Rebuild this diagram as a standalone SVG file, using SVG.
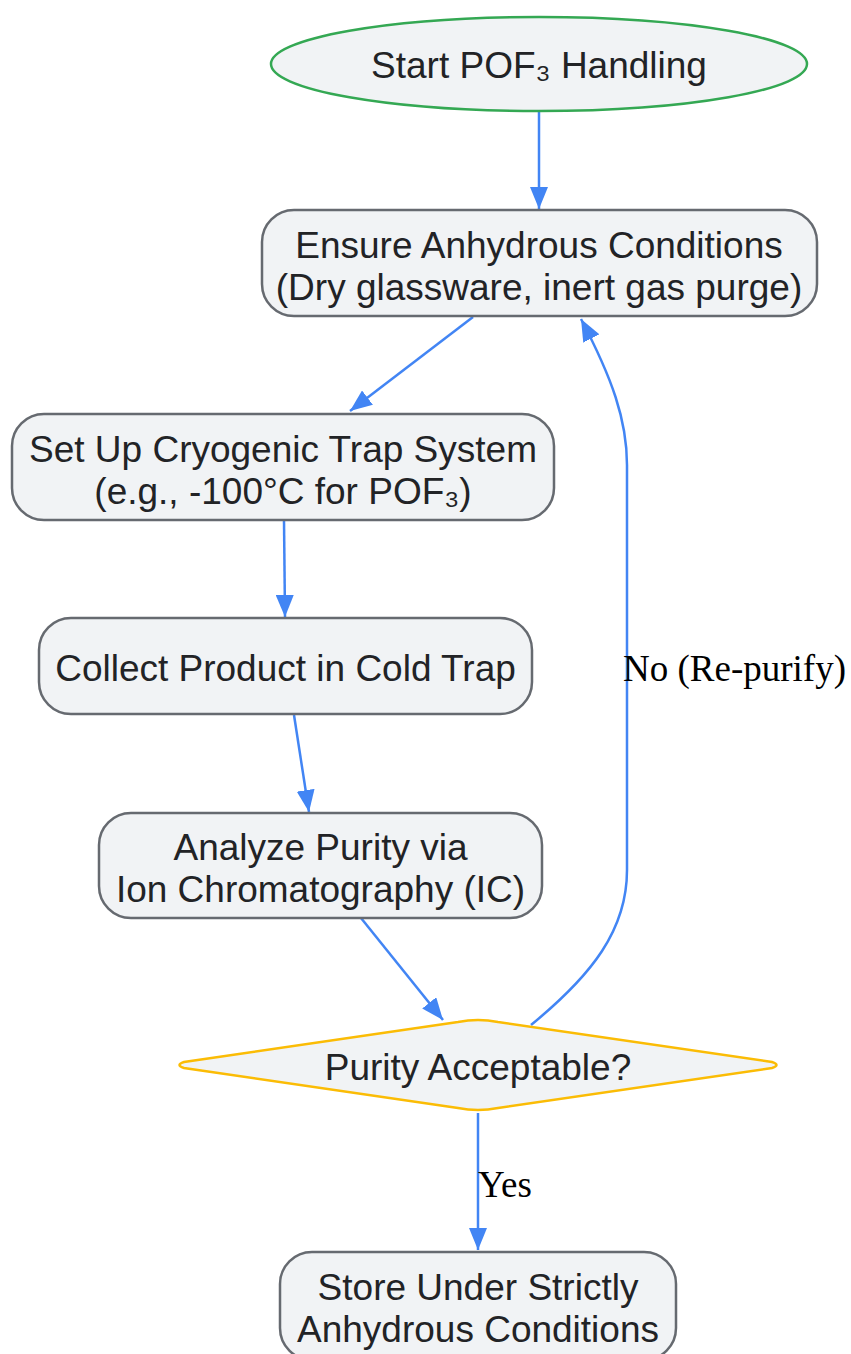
<svg xmlns="http://www.w3.org/2000/svg" width="851" height="1354" viewBox="0 0 851 1354">
<style>
.node{fill:#f1f3f5;stroke:#666a70;stroke-width:2.5}
.t{font-family:"Liberation Sans",Arial,sans-serif;font-size:37px;fill:#222326;text-anchor:middle}
.el{font-family:"Liberation Serif","Times New Roman",serif;font-size:37px;fill:#000}
.e{fill:none;stroke:#4285f4;stroke-width:2.5}
</style>
<defs>
<marker id="ah" viewBox="0 0 22 18" refX="22" refY="9" markerWidth="22" markerHeight="18" markerUnits="userSpaceOnUse" orient="auto">
<path d="M0,0 L22,9 L0,18 z" fill="#4285f4"/>
</marker>
</defs>
<g id="connectors">
<path class="e" d="M539,111 L539,209" marker-end="url(#ah)"/>
<path class="e" d="M473,317 L350,411" marker-end="url(#ah)"/>
<path class="e" d="M284,520 L285,617" marker-end="url(#ah)"/>
<path class="e" d="M294,715 L309,812" marker-end="url(#ah)"/>
<path class="e" d="M361,918 L443,1020" marker-end="url(#ah)"/>
<path class="e" d="M478,1113 L478,1250" marker-end="url(#ah)"/>
<path class="e" d="M531,1025 C592,975 627,930 627,870 L627,465 C627,420 612,378 581,319" marker-end="url(#ah)"/>
<text class="el" x="623" y="681">No (Re-purify)</text>
<text class="el" x="478" y="1197">Yes</text>
</g>
<g id="start">
<ellipse cx="539" cy="64" rx="268" ry="47" fill="#f1f3f5" stroke="#34a853" stroke-width="2.5"/>
<text class="t" x="539" y="78">Start POF₃ Handling</text>
</g>
<g id="ensure">
<rect class="node" x="262" y="210" width="555" height="106" rx="32"/>
<text class="t" x="539" y="258">Ensure Anhydrous Conditions</text>
<text class="t" x="539" y="300">(Dry glassware, inert gas purge)</text>
</g>
<g id="setup">
<rect class="node" x="12" y="414" width="542" height="106" rx="32"/>
<text class="t" x="283" y="462">Set Up Cryogenic Trap System</text>
<text class="t" x="283" y="504">(e.g., -100°C for POF₃)</text>
</g>
<g id="collect">
<rect class="node" x="39" y="618" width="493" height="96" rx="32"/>
<text class="t" x="285.5" y="681">Collect Product in Cold Trap</text>
</g>
<g id="analyze">
<rect class="node" x="99" y="813" width="443" height="105" rx="32"/>
<text class="t" x="320.5" y="860">Analyze Purity via</text>
<text class="t" x="320.5" y="902">Ion Chromatography (IC)</text>
</g>
<g id="decision">
<path d="M458,1022 Q478,1018 498,1022 L772,1062 Q781,1065 772,1068 L498,1108 Q478,1112 458,1108 L184,1068 Q175,1065 184,1062 Z" fill="#f1f3f5" stroke="#fbbc05" stroke-width="2.5"/>
<text class="t" x="478" y="1080">Purity Acceptable?</text>
</g>
<g id="store">
<rect class="node" x="280" y="1252" width="396" height="108" rx="32"/>
<text class="t" x="478" y="1300">Store Under Strictly</text>
<text class="t" x="478" y="1342">Anhydrous Conditions</text>
</g>
</svg>
